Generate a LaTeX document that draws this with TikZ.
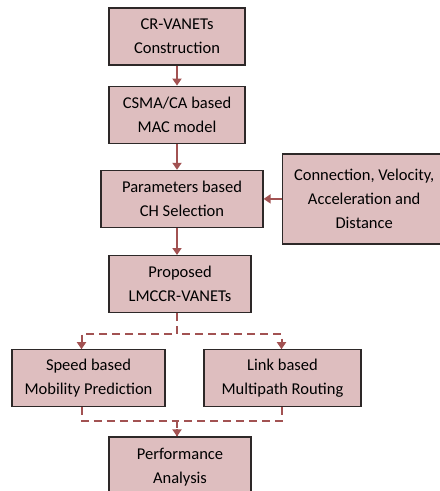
\documentclass[tikz,border=0pt]{standalone}
\usepackage{fontspec}
\setmainfont{Carlito}
\usetikzlibrary{arrows.meta,positioning}

\definecolor{boxfill}{RGB}{222,190,191}
\definecolor{boxline}{RGB}{45,40,40}
\definecolor{flowc}{RGB}{162,82,82}

\begin{document}
\begin{tikzpicture}[
    font=\fontsize{16.5}{24}\selectfont,
    stage/.style={
        draw=boxline,
        fill=boxfill,
        minimum width=136pt,
        minimum height=57pt,
        align=center,
        line width=1.2pt
    },
    param/.style={
        draw=boxline,
        fill=boxfill,
        minimum width=164pt,
        minimum height=90pt,
        align=center,
        line width=1.2pt
    },
    arrow/.style={
        -{Triangle[width=9pt,length=7pt]},
        draw=flowc,
        line width=2pt
    },
    dasharrow/.style={
        arrow,
        dash pattern=on 8pt off 5pt
    }
]

\useasboundingbox (0,0) rectangle (440pt,-491pt);

\node[stage] (crv) at (177pt,-36.5pt) {
    CR-VANETs\\
    Construction
};

\node[stage, below=20pt of crv] (csma) {
    CSMA/CA based\\
    MAC model
};

\node[stage, minimum width=162pt, below=26pt of csma, xshift=5pt] (chsel) {
    Parameters based\\
    CH Selection
};

\node[param, right=18pt of chsel] (metric) {
    Connection, Velocity,\\
    Acceleration and\\
    Distance
};

\node[stage, minimum width=142pt, below=27pt of chsel, xshift=-2pt] (lmccr) {
    Proposed\\
    LMCCR-VANETs
};

\node[stage, minimum width=153pt, below=36pt of lmccr, xshift=-91.5pt] (speed) {
    Speed based\\
    Mobility Prediction
};

\node[stage, minimum width=157pt, below=36pt of lmccr, xshift=102.5pt] (route) {
    Link based\\
    Multipath Routing
};

\node[stage, minimum width=142pt, minimum height=60pt, below=29pt of speed, xshift=91.5pt, anchor=north] (perf) {
    Performance\\
    Analysis
};

\draw[arrow] (crv) -- (csma);
\draw[arrow] (csma) -- (csma |- chsel.north);
\draw[arrow] (metric) -- (chsel);
\draw[arrow] (chsel.south -| csma) -- (csma |- lmccr.north);

\draw[dasharrow] (lmccr.south -| csma) -- ++(0,-21pt) -| ([xshift=-7pt]speed.north);
\draw[dasharrow] (lmccr.south -| csma) -- ++(0,-21pt) -| ([xshift=-1pt]route.north);
\draw[dasharrow, -] ([xshift=-7pt]speed.south) -- ++(0,-14pt) -| (csma |- perf.north);
\draw[dasharrow] ([xshift=-1pt]route.south) -- ++(0,-14pt) -| (csma |- perf.north);

\end{tikzpicture}
\end{document}
